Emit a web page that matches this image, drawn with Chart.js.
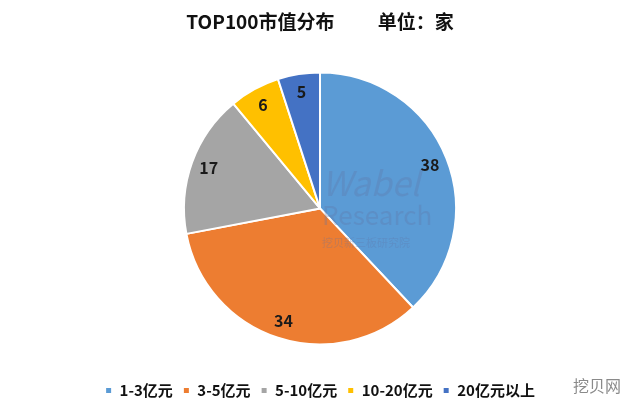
<!DOCTYPE html>
<html>
<head>
<meta charset="utf-8">
<script src="https://cdn.jsdelivr.net/npm/chart.js@4.4.0/dist/chart.umd.min.js"></script>
<style>
  html, body { margin: 0; padding: 0; background: #fff; }
  #wrap { width: 640px; height: 418px; }
</style>
</head>
<body>
<div id="wrap"><canvas id="pie"></canvas></div>
<script>
const categories = ['1-3亿元', '3-5亿元', '5-10亿元', '10-20亿元', '20亿元以上'];
const counts = [38, 34, 17, 6, 5];
const colors = ['#5B9BD5', '#ED7D31', '#A5A5A5', '#FFC000', '#4472C4'];
const titleText = 'TOP100市值分布          单位：家';

const FONT = "'Noto Sans CJK SC', 'Noto Sans', sans-serif";

// 扇区上的数值 + 水印
const sliceLabels = {
    id: 'sliceLabels',
    afterDatasetsDraw(chart) {
        const c = chart.ctx;
        const meta = chart.getDatasetMeta(0);
        const cx = meta.data[0].x, cy = meta.data[0].y;
        c.save();
        c.fillStyle = 'rgba(95,115,165,0.30)';
        c.textBaseline = 'middle';
        c.textAlign = 'left';
        c.font = 'italic 34px ' + FONT;
        c.fillText('Wabel', cx + 2, cy - 25);
        c.font = '26px ' + FONT;
        c.fillText('Research', cx + 2, cy + 7);
        c.font = '11px ' + FONT;
        c.fillText('挖贝新三板研究院', cx + 2, cy + 34);
        c.restore();

        c.save();
        c.font = 'bold 16px ' + FONT;
        c.fillStyle = '#1a1a1a';
        c.textAlign = 'center';
        c.textBaseline = 'middle';
        meta.data.forEach((arc, i) => {
            const p = arc.getProps(['x', 'y', 'startAngle', 'endAngle', 'outerRadius'], true);
            const mid = (p.startAngle + p.endAngle) / 2;
            const r = p.outerRadius * 0.87;
            c.fillText(String(counts[i]), p.x + Math.cos(mid) * r, p.y + Math.sin(mid) * r);
        });
        c.restore();

        // 右下角
        c.save();
        c.font = '16px ' + FONT;
        c.fillStyle = '#8a8a8a';
        c.textAlign = 'left';
        c.textBaseline = 'middle';
        c.fillText('挖贝网', 573, 386);
        c.restore();
    }
};

new Chart(document.getElementById('pie'), {
    type: 'pie',
    data: {
        labels: categories,
        datasets: [{
            data: counts,
            backgroundColor: colors,
            borderColor: '#ffffff',
            borderWidth: 2,
            radius: 136
        }]
    },
    options: {
        responsive: true,
        maintainAspectRatio: false,
        animation: false,
        layout: { padding: { bottom: 10 } },
        plugins: {
            tooltip: { enabled: false },
            title: {
                display: true,
                text: titleText,
                color: '#111',
                font: { family: FONT, size: 19, weight: 'bold' },
                padding: { top: 10, bottom: 11 }
            },
            legend: {
                position: 'bottom',
                labels: {
                    boxWidth: 7,
                    boxHeight: 7,
                    padding: 10,
                    color: '#111',
                    font: { family: FONT, size: 15, weight: 'bold' }
                }
            }
        }
    },
    plugins: [sliceLabels]
});
</script>
</body>
</html>
